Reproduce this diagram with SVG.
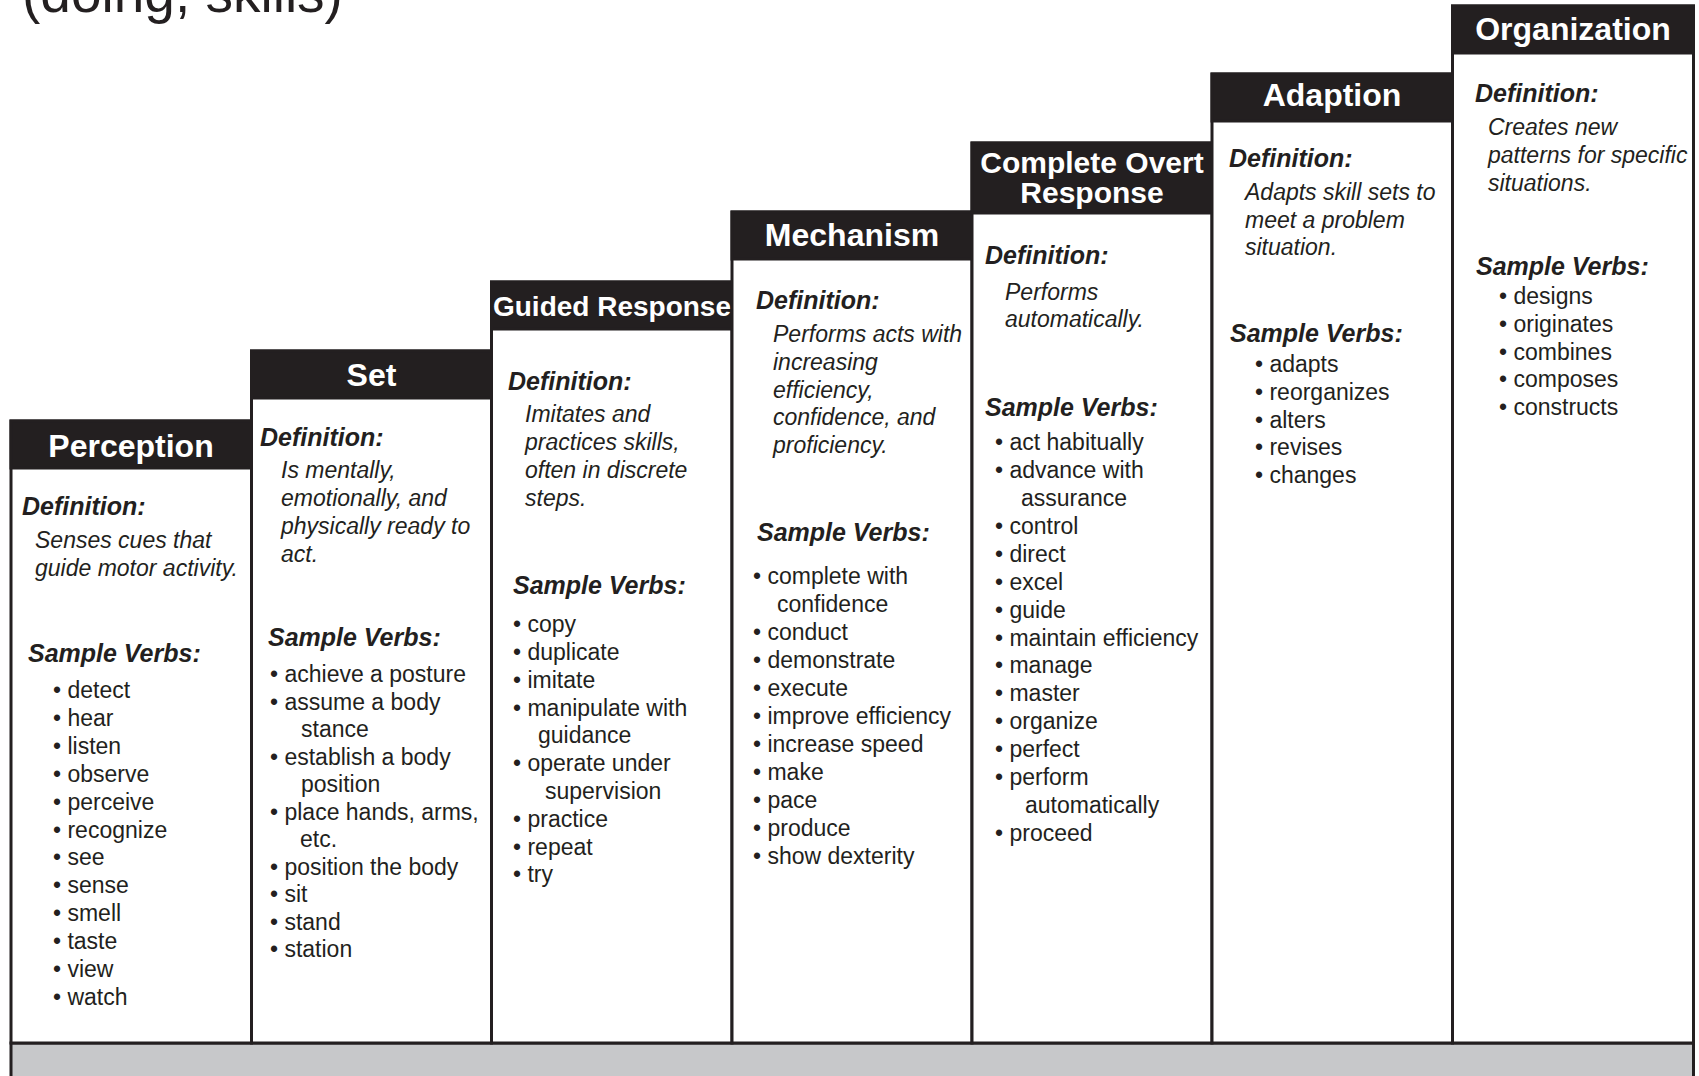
<svg xmlns="http://www.w3.org/2000/svg" width="1699" height="1076" viewBox="0 0 1699 1076">
<style>
.col{fill:#fff;stroke:#231f20;stroke-width:3}
.hd{fill:#231f20;stroke:#231f20;stroke-width:3}
.ht{font-family:"Liberation Sans",Arial,sans-serif;font-weight:bold;font-size:32px;fill:#fff;text-anchor:middle}
.lbl{font-family:"Liberation Sans",Arial,sans-serif;font-weight:bold;font-style:italic;font-size:25px;fill:#231f20}
.def{font-family:"Liberation Sans",Arial,sans-serif;font-style:italic;font-size:23px;fill:#231f20}
.vb{font-family:"Liberation Sans",Arial,sans-serif;font-size:23px;fill:#231f20}
.title{font-family:"Liberation Sans",Arial,sans-serif;font-size:55px;fill:#231f20}
</style>
<rect width="1699" height="1076" fill="#fff"/>
<text class="title" x="22" y="12">(doing, skills)</text>
<rect x="11" y="1043" width="1682.5" height="40" fill="#c7c8ca" stroke="#231f20" stroke-width="3"/>

<g id="perception">
<rect class="col" x="11" y="421" width="240.5" height="622"/>
<rect class="hd" x="11" y="421" width="240.5" height="47"/>
<text class="ht" x="131" y="457">Perception</text>
<text class="lbl" x="22" y="515">Definition:</text>
<text class="def" x="35" y="548">Senses cues that</text>
<text class="def" x="35" y="576">guide motor activity.</text>
<text class="lbl" x="28" y="662">Sample Verbs:</text>
<text class="vb" x="53" y="698">• detect</text>
<text class="vb" x="53" y="726">• hear</text>
<text class="vb" x="53" y="754">• listen</text>
<text class="vb" x="53" y="782">• observe</text>
<text class="vb" x="53" y="810">• perceive</text>
<text class="vb" x="53" y="838">• recognize</text>
<text class="vb" x="53" y="865">• see</text>
<text class="vb" x="53" y="893">• sense</text>
<text class="vb" x="53" y="921">• smell</text>
<text class="vb" x="53" y="949">• taste</text>
<text class="vb" x="53" y="977">• view</text>
<text class="vb" x="53" y="1005">• watch</text>
</g>

<g id="set">
<rect class="col" x="251.5" y="351" width="240" height="692"/>
<rect class="hd" x="251.5" y="351" width="240" height="47"/>
<text class="ht" x="371.5" y="386">Set</text>
<text class="lbl" x="260" y="446">Definition:</text>
<text class="def" x="281" y="478">Is mentally,</text>
<text class="def" x="281" y="506">emotionally, and</text>
<text class="def" x="281" y="534">physically ready to</text>
<text class="def" x="281" y="562">act.</text>
<text class="lbl" x="268" y="646">Sample Verbs:</text>
<text class="vb" x="270" y="682">• achieve a posture</text>
<text class="vb" x="270" y="709.5">• assume a body</text>
<text class="vb" x="301" y="737">stance</text>
<text class="vb" x="270" y="764.5">• establish a body</text>
<text class="vb" x="301" y="792">position</text>
<text class="vb" x="270" y="819.5">• place hands, arms,</text>
<text class="vb" x="300" y="847">etc.</text>
<text class="vb" x="270" y="874.5">• position the body</text>
<text class="vb" x="270" y="902">• sit</text>
<text class="vb" x="270" y="929.5">• stand</text>
<text class="vb" x="270" y="957">• station</text>
</g>

<g id="guided-response">
<rect class="col" x="491.5" y="282" width="240.5" height="761"/>
<rect class="hd" x="491.5" y="282" width="240.5" height="47"/>
<text class="ht" x="612" y="316" style="font-size:28px">Guided Response</text>
<text class="lbl" x="508" y="390">Definition:</text>
<text class="def" x="525" y="422">Imitates and</text>
<text class="def" x="525" y="450">practices skills,</text>
<text class="def" x="525" y="478">often in discrete</text>
<text class="def" x="525" y="506">steps.</text>
<text class="lbl" x="513" y="594">Sample Verbs:</text>
<text class="vb" x="513" y="632">• copy</text>
<text class="vb" x="513" y="660">• duplicate</text>
<text class="vb" x="513" y="688">• imitate</text>
<text class="vb" x="513" y="715.5">• manipulate with</text>
<text class="vb" x="538" y="743">guidance</text>
<text class="vb" x="513" y="771">• operate under</text>
<text class="vb" x="545" y="799">supervision</text>
<text class="vb" x="513" y="827">• practice</text>
<text class="vb" x="513" y="854.5">• repeat</text>
<text class="vb" x="513" y="882">• try</text>
</g>

<g id="mechanism">
<rect class="col" x="732" y="212" width="240" height="831"/>
<rect class="hd" x="732" y="212" width="240" height="47"/>
<text class="ht" x="852" y="246">Mechanism</text>
<text class="lbl" x="756" y="309">Definition:</text>
<text class="def" x="773" y="342">Performs acts with</text>
<text class="def" x="773" y="370">increasing</text>
<text class="def" x="773" y="397.5">efficiency,</text>
<text class="def" x="773" y="425">confidence, and</text>
<text class="def" x="773" y="452.5">proficiency.</text>
<text class="lbl" x="757" y="541">Sample Verbs:</text>
<text class="vb" x="753" y="584">• complete with</text>
<text class="vb" x="777" y="612">confidence</text>
<text class="vb" x="753" y="640">• conduct</text>
<text class="vb" x="753" y="668">• demonstrate</text>
<text class="vb" x="753" y="696">• execute</text>
<text class="vb" x="753" y="724">• improve efficiency</text>
<text class="vb" x="753" y="752">• increase speed</text>
<text class="vb" x="753" y="780">• make</text>
<text class="vb" x="753" y="808">• pace</text>
<text class="vb" x="753" y="836">• produce</text>
<text class="vb" x="753" y="864">• show dexterity</text>
</g>

<g id="complete-overt-response">
<rect class="col" x="972" y="143" width="240" height="900"/>
<rect class="hd" x="972" y="143" width="240" height="70"/>
<text class="ht" x="1092" y="173" style="font-size:30px">Complete Overt</text>
<text class="ht" x="1092" y="203" style="font-size:30px">Response</text>
<text class="lbl" x="985" y="264">Definition:</text>
<text class="def" x="1005" y="300">Performs</text>
<text class="def" x="1005" y="327">automatically.</text>
<text class="lbl" x="985" y="416">Sample Verbs:</text>
<text class="vb" x="995" y="450">• act habitually</text>
<text class="vb" x="995" y="478">• advance with</text>
<text class="vb" x="1021" y="506">assurance</text>
<text class="vb" x="995" y="533.5">• control</text>
<text class="vb" x="995" y="561.5">• direct</text>
<text class="vb" x="995" y="589.5">• excel</text>
<text class="vb" x="995" y="617.5">• guide</text>
<text class="vb" x="995" y="645.5">• maintain efficiency</text>
<text class="vb" x="995" y="673">• manage</text>
<text class="vb" x="995" y="701">• master</text>
<text class="vb" x="995" y="729">• organize</text>
<text class="vb" x="995" y="757">• perfect</text>
<text class="vb" x="995" y="785">• perform</text>
<text class="vb" x="1025" y="813">automatically</text>
<text class="vb" x="995" y="841">• proceed</text>
</g>

<g id="adaption">
<rect class="col" x="1212" y="74" width="240.5" height="969"/>
<rect class="hd" x="1212" y="74" width="240.5" height="47"/>
<text class="ht" x="1332" y="106">Adaption</text>
<text class="lbl" x="1229" y="167">Definition:</text>
<text class="def" x="1245" y="200">Adapts skill sets to</text>
<text class="def" x="1245" y="228">meet a problem</text>
<text class="def" x="1245" y="255">situation.</text>
<text class="lbl" x="1230" y="342">Sample Verbs:</text>
<text class="vb" x="1255" y="372">• adapts</text>
<text class="vb" x="1255" y="400">• reorganizes</text>
<text class="vb" x="1255" y="427.5">• alters</text>
<text class="vb" x="1255" y="455">• revises</text>
<text class="vb" x="1255" y="483">• changes</text>
</g>

<g id="organization">
<rect class="col" x="1452.5" y="6" width="241" height="1037"/>
<rect class="hd" x="1452.5" y="6" width="241" height="47"/>
<text class="ht" x="1573" y="40">Organization</text>
<text class="lbl" x="1475" y="102">Definition:</text>
<text class="def" x="1488" y="135">Creates new</text>
<text class="def" x="1488" y="163">patterns for specific</text>
<text class="def" x="1488" y="191">situations.</text>
<text class="lbl" x="1476" y="275">Sample Verbs:</text>
<text class="vb" x="1499" y="304">• designs</text>
<text class="vb" x="1499" y="332">• originates</text>
<text class="vb" x="1499" y="359.5">• combines</text>
<text class="vb" x="1499" y="387">• composes</text>
<text class="vb" x="1499" y="415">• constructs</text>
</g>
</svg>
